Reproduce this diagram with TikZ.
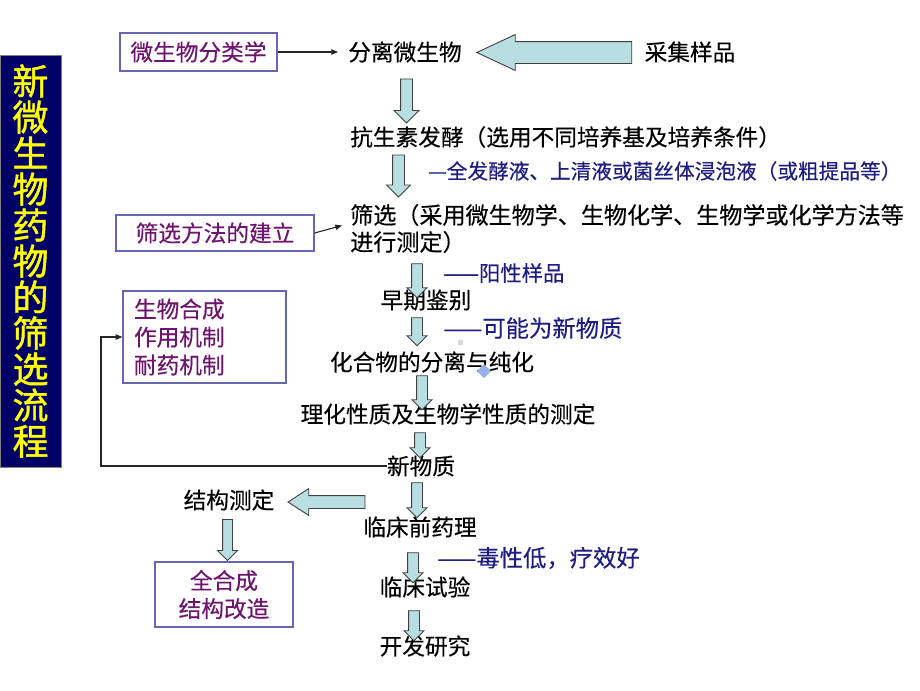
\documentclass[tikz,border=0pt]{standalone}
\usepackage{fontspec}
\setmainfont{Noto Sans CJK SC}[UprightFeatures={FakeBold=0.3}]
\newfontfamily\titlefont{Noto Sans CJK SC}[UprightFeatures={FakeBold=1.2}]
\usetikzlibrary{shapes.arrows, arrows.meta, positioning, calc}
\definecolor{barnavy}{RGB}{0, 0, 102}
\definecolor{titleyellow}{RGB}{255, 255, 0}
\definecolor{boxpurple}{RGB}{110, 20, 110}
\definecolor{boxedge}{RGB}{102, 102, 178}
\definecolor{notenavy}{RGB}{30, 30, 130}
\definecolor{arrowcyan}{RGB}{185, 222, 226}
\newdimen\pxu \pxu=0.75pt

\tikzset{
  stage/.style={font=\fontsize{17pt}{20pt}\selectfont, inner sep=0pt},
  note/.style={font=\fontsize{17.5pt}{20pt}\selectfont, text=notenavy, inner sep=0pt, anchor=west},
  purplebox/.style={draw=boxedge, line width=1.2\pxu, text=boxpurple, font=\fontsize{17pt}{21pt}\selectfont, inner sep=0pt, align=center},
  fatarrow/.style={single arrow, draw=black!75, fill=arrowcyan, line width=0.9\pxu, inner xsep=0pt, single arrow tip angle=90},
  fatdown/.style={fatarrow, rotate=-90, inner ysep=5\pxu, single arrow head extend=4.5\pxu},
  thinline/.style={draw=black!85, line width=1.1\pxu},
  thinarrow/.style={thinline, -{Triangle[length=5pt, width=4pt]}}
}

\begin{document}
\begin{tikzpicture}[x=0.75pt, y=-0.75pt]
  \fill[white] (0,0) rectangle (920,690);
  \useasboundingbox (0,0) rectangle (920,690);

  % title bar
  \node[draw=black!50, fill=barnavy, text=titleyellow, minimum width=61\pxu, minimum height=412\pxu,
        inner sep=0pt, align=center, font=\titlefont\fontsize{27pt}{27pt}\selectfont] (title) at (30.5, 261) {
    新\\微\\生\\物\\药\\物\\的\\筛\\选\\流\\程
  };

  % main chain
  \node[stage] (isolate) at (405, 52) {分离微生物};
  \node[stage] (collect) at (690, 52) {采集样品};
  \node[stage, anchor=west] (ferment) at (350, 137) {抗生素发酵（选用不同培养基及培养条件）};
  \node[note, font=\fontsize{15.5pt}{18pt}\selectfont] (fermnote) at (428, 171) {—全发酵液、上清液或菌丝体浸泡液（或粗提品等）};
  \node[stage, anchor=west, align=left, font=\fontsize{17.3pt}{20.25pt}\selectfont] (screen) at (350, 228.5) {
    筛选（采用微生物学、生物化学、生物学或化学方法等\\进行测定）
  };
  \node[note, font=\fontsize{16pt}{18pt}\selectfont] (posnote) at (443, 273) {——阳性样品};
  \node[stage] (early) at (426, 300) {早期鉴别};
  \node[note] (newnote) at (443, 328) {——可能为新物质};
  \node[stage] (sep) at (432, 362) {化合物的分离与纯化};
  \node[stage] (prop) at (448, 414) {理化性质及生物学性质的测定};
  \node[stage] (newsub) at (421, 466) {新物质};
  \node[stage] (preclin) at (420, 527) {临床前药理};
  \node[note] (toxnote) at (437, 558) {——毒性低，疗效好};
  \node[stage] (clin) at (425, 587) {临床试验};
  \node[stage] (dev) at (425, 646) {开发研究};
  \node[stage] (struct) at (229, 500) {结构测定};

  % side boxes
  \node[purplebox, minimum width=157\pxu, minimum height=38\pxu] (taxon) at (198.5, 52) {微生物分类学};
  \node[purplebox, minimum width=198\pxu, minimum height=36\pxu] (method) at (215, 233) {筛选方法的建立};
  \node[purplebox, text width=141\pxu, inner xsep=11\pxu, minimum height=92\pxu, align=left] (bio) at (204.5, 337) {
    生物合成\\作用机制\\耐药机制
  };
  \node[purplebox, minimum width=138\pxu, minimum height=65\pxu] (synth) at (224, 594.5) {
    全合成\\结构改造
  };

  % block arrows
  \node[fatarrow, rotate=180, minimum height=155\pxu, inner ysep=10.5\pxu,
        single arrow head extend=7\pxu, single arrow tip angle=50] (a_collect) at (566, 52.5) {};
  \node[fatdown, minimum height=44\pxu, inner ysep=5.5\pxu, single arrow head extend=6.5\pxu] (a_isolate) at (406.5, 98) {};
  \node[fatdown, minimum height=42\pxu, inner ysep=5.5\pxu, single arrow head extend=6\pxu] (a_ferment) at (398.5, 173) {};
  \node[fatdown, minimum height=34\pxu] (a_screen) at (417, 278) {};
  \node[fatdown, minimum height=28\pxu] (a_early) at (417, 329) {};
  \node[fatdown, minimum height=34\pxu] (a_sep) at (422, 390) {};
  \node[fatdown, minimum height=25\pxu] (a_prop) at (420, 442.5) {};
  \node[fatdown, minimum height=35\pxu] (a_newsub) at (417, 497.5) {};
  \node[fatdown, minimum height=30\pxu] (a_preclin) at (413, 565) {};
  \node[fatdown, minimum height=30\pxu] (a_clin) at (414, 623) {};
  \node[fatdown, minimum height=41\pxu, inner ysep=4.5\pxu, single arrow head extend=5\pxu] (a_struct) at (227.5, 537.5) {};
  \node[fatarrow, rotate=180, minimum height=77\pxu, inner ysep=6\pxu,
        single arrow head extend=7\pxu, single arrow tip angle=66] (a_newstruct) at (331.5, 502) {};

  % thin connectors
  \draw[thinarrow, shorten >=10\pxu] (taxon.east) -- (isolate.west);
  \draw[thinarrow] (method.east) -- ([xshift=-8\pxu, yshift=3\pxu]screen.west);
  \coordinate (fbturn) at (101, 466);
  \draw[thinarrow] (newsub.west) -- (fbturn) |- (bio.west);

  % stray marks
  \fill[arrowcyan!80!blue] (484, 364) -- (491, 371) -- (484, 378) -- (477, 371) -- cycle;
  \fill[black!15] (458, 340) rectangle (463, 345);
\end{tikzpicture}
\end{document}
